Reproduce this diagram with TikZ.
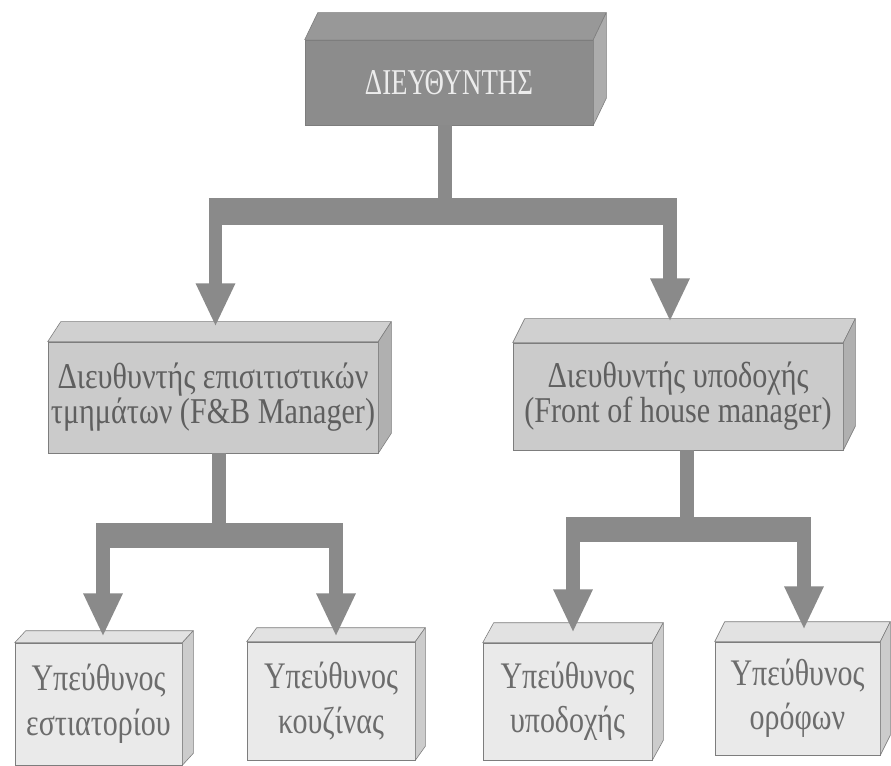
\documentclass[tikz,border=0pt]{standalone}
\usepackage{fontspec}
\usetikzlibrary{calc,arrows.meta}
\newfontfamily\headfont[FakeStretch=0.74]{Liberation Serif}
\newfontfamily\midfont[FakeStretch=0.83]{Liberation Serif}
\newfontfamily\lowfont[FakeStretch=0.80]{Liberation Serif}
\def\pxu{0.03cm}
% palette
\definecolor{conn}{RGB}{138,138,138}
\definecolor{edgecol}{RGB}{125,125,125}
\definecolor{ceofront}{RGB}{140,140,140}
\definecolor{ceotop}{RGB}{152,152,152}
\definecolor{ceoside}{RGB}{172,172,172}
\definecolor{midfront}{RGB}{203,203,203}
\definecolor{midtop}{RGB}{208,208,208}
\definecolor{midside}{RGB}{176,176,176}
\definecolor{lowfront}{RGB}{234,234,234}
\definecolor{lowtop}{RGB}{226,226,226}
\definecolor{lowside}{RGB}{204,204,204}
\definecolor{ceotext}{RGB}{236,236,236}
\definecolor{midtext}{RGB}{95,95,95}
\definecolor{lowtext}{RGB}{108,108,108}
% top and side faces of a box whose front face is node #1, depth (#2,#3)
\newcommand\solidbox[5]{%
  \filldraw[fill=#4, draw=edgecol, line width=0.5pt, line join=round]
    (#1.north west) -- ++(#2,#3) -- ($(#1.north east)+(#2,#3)$) -- (#1.north east) -- cycle;
  \filldraw[fill=#5, draw=edgecol, line width=0.5pt, line join=round]
    (#1.north east) -- ++(#2,#3) -- ($(#1.south east)+(#2,#3)$) -- (#1.south east) -- cycle;}
\begin{document}
\begin{tikzpicture}[x=0.03cm, y=-0.03cm,
  frontface/.style={draw=edgecol, line width=0.5pt, inner sep=0pt, align=center},
  ceobox/.style={frontface, fill=ceofront, text=ceotext, font=\headfont\fontsize{31}{31}\selectfont},
  midbox/.style={frontface, fill=midfront, text=midtext, font=\midfont\fontsize{31}{30}\selectfont},
  lowbox/.style={frontface, fill=lowfront, text=lowtext, font=\lowfont\fontsize{32}{38}\selectfont},
  stemline/.style={draw=conn, line width=12pt},
  barline/.style={draw=conn, line width=#1, shorten <=-5.6pt, shorten >=-5.6pt},
  dropline/.style={draw=conn, line width=11.5pt, -{Triangle[width=31pt,length=37pt]}}]
\useasboundingbox (0,0) rectangle (891,766);
\fill[white] (0,0) rectangle (891,766);

% boxes
\node[ceobox, minimum width={288*\pxu}, minimum height={85*\pxu}] (ceo) at (449,82.5) {ΔΙΕΥΘΥΝΤΗΣ};
\solidbox{ceo}{13}{-27}{ceotop}{ceoside}

\node[midbox, minimum width={330*\pxu}, minimum height={111*\pxu}] (fb) at (213,397.5)
  {Διευθυντής επισιτιστικών\\τμημάτων (F\&B Manager)};
\solidbox{fb}{13}{-20}{midtop}{midside}

\node[midbox, minimum width={330*\pxu}, minimum height={107*\pxu}] (fo) at (678,396.5)
  {Διευθυντής υποδοχής\\(Front of house manager)};
\solidbox{fo}{12}{-24}{midtop}{midside}

\node[lowbox, minimum width={167*\pxu}, minimum height={122*\pxu}] (rest) at (98.5,704)
  {Υπεύθυνος\\εστιατορίου};
\solidbox{rest}{11}{-12}{lowtop}{lowside}

\node[lowbox, minimum width={168*\pxu}, minimum height={118*\pxu}] (kitch) at (331,701)
  {Υπεύθυνος\\κουζίνας};
\solidbox{kitch}{10}{-14}{lowtop}{lowside}

\node[lowbox, minimum width={169*\pxu}, minimum height={117*\pxu}] (recep) at (567.5,701.5)
  {Υπεύθυνος\\υποδοχής};
\solidbox{recep}{11}{-20}{lowtop}{lowside}

\node[lowbox, minimum width={165*\pxu}, minimum height={113*\pxu}] (floors) at (797.5,698.5)
  {Υπεύθυνος\\ορόφων};
\solidbox{floors}{10}{-20}{lowtop}{lowside}

% branch points and arrow tips
\coordinate (bar1) at (445,211.5);
\coordinate (tipfb) at ($(fb.north)+(2.5,-15)$);
\coordinate (tipfo) at ($(fo.north)+(-8,-21)$);
\coordinate (bar2) at (219,535.5);
\coordinate (tiprest) at ($(rest.north)+(4.5,-6)$);
\coordinate (tipkitch) at ($(kitch.north)+(5,-5)$);
\coordinate (bar3) at (687,529.5);
\coordinate (tiprecep) at ($(recep.north)+(5.5,-10)$);
\coordinate (tipfloors) at ($(floors.north)+(6.5,-12)$);

% connectors from the director
\draw[stemline] (ceo.south -| bar1) -- (bar1);
\draw[barline=23pt] (tipfb |- bar1) -- (tipfo |- bar1);
\draw[dropline] (tipfb |- bar1) -- (tipfb);
\draw[dropline] (tipfo |- bar1) -- (tipfo);

% connectors from the F&B manager
\draw[stemline] (fb.south -| bar2) -- (bar2);
\draw[barline=21pt] (tiprest |- bar2) -- (tipkitch |- bar2);
\draw[dropline] (tiprest |- bar2) -- (tiprest);
\draw[dropline] (tipkitch |- bar2) -- (tipkitch);

% connectors from the front of house manager
\draw[stemline] (fo.south -| bar3) -- (bar3);
\draw[barline=21pt] (tiprecep |- bar3) -- (tipfloors |- bar3);
\draw[dropline] (tiprecep |- bar3) -- (tiprecep);
\draw[dropline] (tipfloors |- bar3) -- (tipfloors);
\end{tikzpicture}
\end{document}
